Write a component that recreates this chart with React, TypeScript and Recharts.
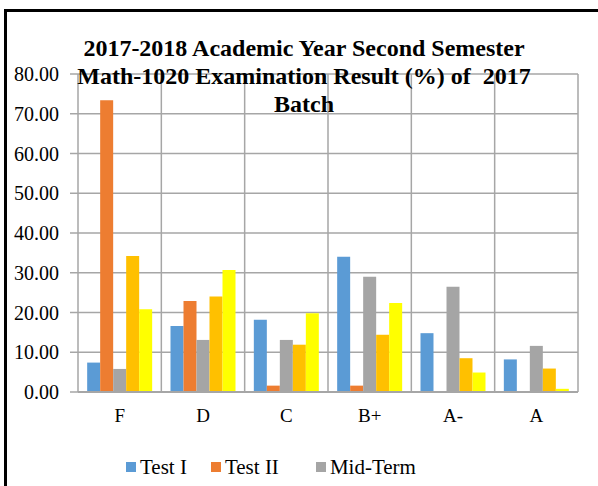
import React from "react";
import { BarChart, Bar, XAxis, YAxis, CartesianGrid, Legend } from "recharts";

const grades = ["F", "D", "C", "B+", "A-", "A"];
const testOne = [7.4, 16.6, 18.2, 34.0, 14.8, 8.2];
const testTwo = [73.4, 22.9, 1.6, 1.6, 0, 0];
const midTerm = [5.8, 13.1, 13.1, 29.0, 26.5, 11.6];
const finalExam = [34.2, 24.0, 11.9, 14.4, 8.5, 5.9];
const total = [20.8, 30.7, 19.8, 22.4, 4.9, 0.8];
const yTicks = [0, 10, 20, 30, 40, 50, 60, 70, 80];
const legendNames = ["Test I", "Test II", "Mid-Term"];
const legendColors = ["#5B9BD5", "#ED7D31", "#A5A5A5"];
const legendGaps = [24, 37, 0];

const data = grades.map((g, i) => ({
  grade: g,
  testOne: testOne[i],
  testTwo: testTwo[i],
  midTerm: midTerm[i],
  finalExam: finalExam[i],
  total: total[i],
}));

const FONT = '"Liberation Serif", "DejaVu Serif", serif';
const GRID = "#a6a6a6";

function LegendRow() {
  return (
    <div style={{ display: "flex", fontFamily: FONT, fontSize: 21, lineHeight: "24px", color: "#000", paddingLeft: 126, marginTop: 5 }}>
      {legendNames.map((name, i) => (
        <div key={name} style={{ display: "flex", alignItems: "center", gap: 4, marginRight: legendGaps[i] }}>
          <span style={{ width: 10, height: 10, background: legendColors[i], display: "inline-block" }} />
          <span>{name}</span>
        </div>
      ))}
    </div>
  );
}

export default function App() {
  return (
    <div style={{ position: "absolute", left: 0, top: 0, width: 598, height: 486, background: "#fff", overflow: "hidden" }}>
      <BarChart
        width={598}
        height={486}
        data={data}
        margin={{ top: 74, right: 20, bottom: 6, left: 0 }}
        barCategoryGap="11%"
        barGap={0}
      >
        <CartesianGrid
          stroke={GRID}
          strokeWidth={1.5}
          verticalCoordinatesGenerator={({ offset }: any) =>
            grades.map((_, i) => offset.left + (offset.width * i) / grades.length).concat(offset.left + offset.width)
          }
        />
        <XAxis
          dataKey="grade"
          tick={{ fontSize: 19, fill: "#000", fontFamily: FONT }}
          tickLine={false}
          tickMargin={11}
          axisLine={{ stroke: GRID, strokeWidth: 2 }}
          height={58}
        />
        <YAxis
          domain={[0, 80]}
          ticks={yTicks}
          width={78}
          tickFormatter={(v: number) => v.toFixed(2)}
          tick={{ fontSize: 20, fill: "#000", fontFamily: FONT }}
          tickLine={{ stroke: GRID, strokeWidth: 1.5 }}
          tickSize={8}
          tickMargin={11}
          axisLine={false}
        />
        <Legend verticalAlign="bottom" height={30} content={<LegendRow />} />
        <Bar dataKey="testOne" name="Test I" fill="#5B9BD5" isAnimationActive={false} />
        <Bar dataKey="testTwo" name="Test II" fill="#ED7D31" isAnimationActive={false} />
        <Bar dataKey="midTerm" name="Mid-Term" fill="#A5A5A5" isAnimationActive={false} />
        <Bar dataKey="finalExam" name="Final Exam" fill="#FFC000" legendType="none" isAnimationActive={false} />
        <Bar dataKey="total" name="Total" fill="#FFFF00" legendType="none" isAnimationActive={false} />
      </BarChart>
      <div
        style={{
          position: "absolute",
          left: 54,
          top: 34,
          width: 500,
          textAlign: "center",
          fontFamily: FONT,
          fontWeight: "bold",
          fontSize: 24,
          lineHeight: "28px",
          whiteSpace: "pre",
          color: "#000",
        }}
      >
        {"2017-2018 Academic Year Second Semester\nMath-1020 Examination Result (%) of  2017\nBatch"}
      </div>
      <div style={{ position: "absolute", left: 4, top: 9, width: 600, height: 480, borderTop: "3px solid #000", borderLeft: "3px solid #000" }} />
    </div>
  );
}
